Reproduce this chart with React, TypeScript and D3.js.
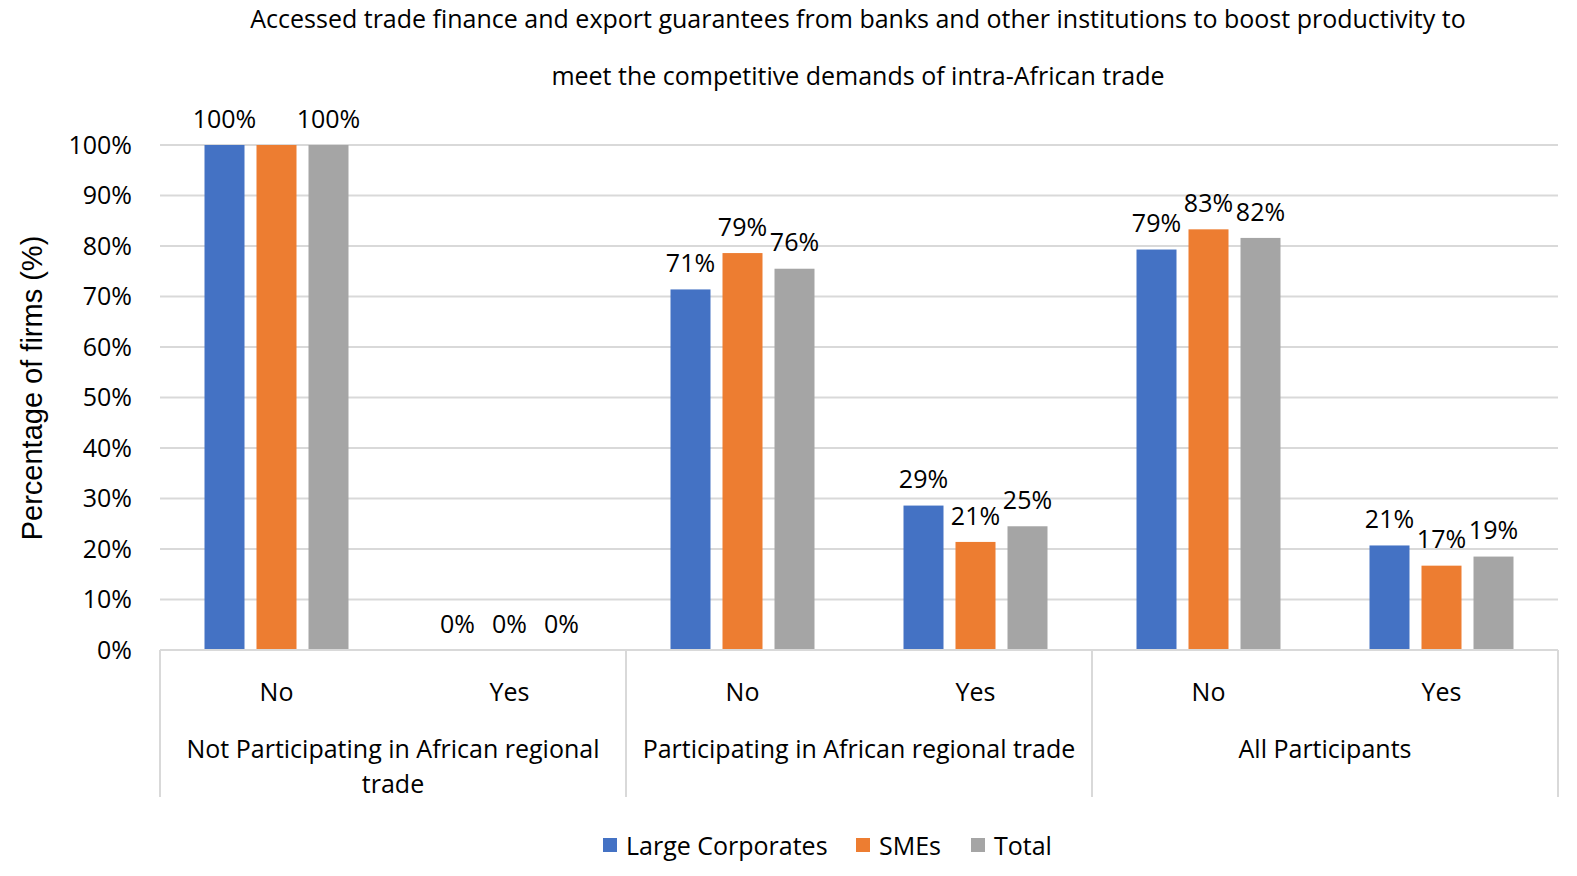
import * as d3 from "d3";
import React from "react";

const titleLines = [
  "Accessed trade finance and export guarantees from banks and other institutions to boost productivity to",
  "meet the competitive demands of intra-African trade",
];

const groups = [
  ["Not Participating in African regional", "trade"],
  ["Participating in African regional trade"],
  ["All Participants"],
];
const answers = ["No", "Yes"];
const series = ["Large Corporates", "SMEs", "Total"];
const colors = ["#4472C4", "#ED7D31", "#A5A5A5"];

// percent values per series, in order: group x answer
const largeCorporates = [100, 0, 71.4, 28.6, 79.3, 20.7];
const smes = [100, 0, 78.6, 21.4, 83.3, 16.7];
const total = [100, 0, 75.5, 24.5, 81.6, 18.5];
const seriesValues = [largeCorporates, smes, total];

const yTicks = [0, 10, 20, 30, 40, 50, 60, 70, 80, 90, 100];

const W = 1577;
const H = 876;
const left = 160;
const right = 1558;
const top = 145;
const bottom = 650;
const font = "'Open Sans', Lato, sans-serif";
const fs = 25;

const App: React.FC = () => {
  const cells = groups.flatMap((_, gi) => answers.map((a) => `${gi}-${a}`));

  const x = d3.scaleBand<string>().domain(cells).range([left, right]);
  const step = x.bandwidth();
  const inner = d3
    .scaleBand<string>()
    .domain(series)
    .range([step / 2 - 78, step / 2 + 78])
    .paddingInner(12 / 52)
    .paddingOuter(6 / 52);

  const y = d3.scaleLinear().domain([0, 100]).range([bottom, top]);

  const groupW = step * answers.length;

  // data labels, dropping one that would collide with the previous shown one (as Excel does)
  const labels = cells.flatMap((c, ci) => {
    let prev: { cx: number; cy: number; w: number } | null = null;
    return series.flatMap((s, si) => {
      const v = seriesValues[si][ci];
      const text = `${Math.round(v)}%`;
      const cx = x(c)! + inner(s)! + inner.bandwidth() / 2;
      const cy = y(v) - 26;
      const w = text.length * fs * 0.6;
      if (prev && Math.abs(prev.cy - cy) < 20 && Math.abs(prev.cx - cx) < (w + prev.w) / 2 - 4) {
        return [];
      }
      prev = { cx, cy, w };
      return [{ key: `${si}-${ci}`, cx, cy, text }];
    });
  });

  return (
    <svg
      width={W}
      height={H}
      style={{ position: "absolute", left: 0, top: 0, background: "#fff" }}
    >
      {titleLines.map((t, i) => (
        <text
          key={i}
          x={858}
          y={28 + i * 57}
          textAnchor="middle"
          fontFamily={font}
          fontSize={fs}
          fill="#000"
        >
          {t}
        </text>
      ))}

      {yTicks.map((t) => (
        <g key={t}>
          {t > 0 && (
            <line
              x1={left}
              x2={right}
              y1={y(t)}
              y2={y(t)}
              stroke="#d9d9d9"
              strokeWidth={2}
            />
          )}
          <text
            x={132}
            y={y(t)}
            dy="0.35em"
            textAnchor="end"
            fontFamily={font}
            fontSize={fs}
            fill="#000"
          >
            {t}%
          </text>
        </g>
      ))}

      <text
        transform={`translate(42,388) rotate(-90)`}
        textAnchor="middle"
        fontFamily="'Liberation Sans', Arial, sans-serif"
        fontSize={29}
        fill="#000"
      >
        Percentage of firms (%)
      </text>

      {seriesValues.map((vals, si) =>
        vals.map((v, ci) =>
          v > 0 ? (
            <rect
              key={`${si}-${ci}`}
              x={x(cells[ci])! + inner(series[si])!}
              y={y(v)}
              width={inner.bandwidth()}
              height={bottom - y(v)}
              fill={colors[si]}
            />
          ) : null,
        ),
      )}
      {labels.map((l) => (
        <text
          key={l.key}
          x={l.cx}
          y={l.cy}
          dy="0.35em"
          textAnchor="middle"
          fontFamily={font}
          fontSize={fs}
          fill="#000"
        >
          {l.text}
        </text>
      ))}

      {/* category axis */}
      <line x1={left} x2={right} y1={bottom} y2={bottom} stroke="#d9d9d9" strokeWidth={2} />
      {d3.range(groups.length + 1).map((i) => (
        <line
          key={i}
          x1={left + i * groupW}
          x2={left + i * groupW}
          y1={bottom}
          y2={797}
          stroke="#d9d9d9"
          strokeWidth={2}
        />
      ))}
      {cells.map((c, ci) => (
        <text
          key={c}
          x={x(c)! + step / 2}
          y={692}
          dy="0.35em"
          textAnchor="middle"
          fontFamily={font}
          fontSize={fs}
          fill="#000"
        >
          {answers[ci % answers.length]}
        </text>
      ))}
      {groups.map((lines, gi) =>
        lines.map((l, li) => (
          <text
            key={`${gi}-${li}`}
            x={left + gi * groupW + groupW / 2}
            y={749 + li * 35}
            dy="0.35em"
            textAnchor="middle"
            fontFamily={font}
            fontSize={fs}
            fill="#000"
          >
            {l}
          </text>
        )),
      )}

      {/* legend */}
      {series.map((s, si) => {
        const lx = [603, 856, 971][si];
        return (
          <g key={s} transform={`translate(${lx},${838})`}>
            <rect width={14} height={14} fill={colors[si]} />
            <text
              x={23}
              y={8}
              dy="0.35em"
              fontFamily={font}
              fontSize={fs}
              fill="#000"
            >
              {s}
            </text>
          </g>
        );
      })}
    </svg>
  );
};

export default App;
